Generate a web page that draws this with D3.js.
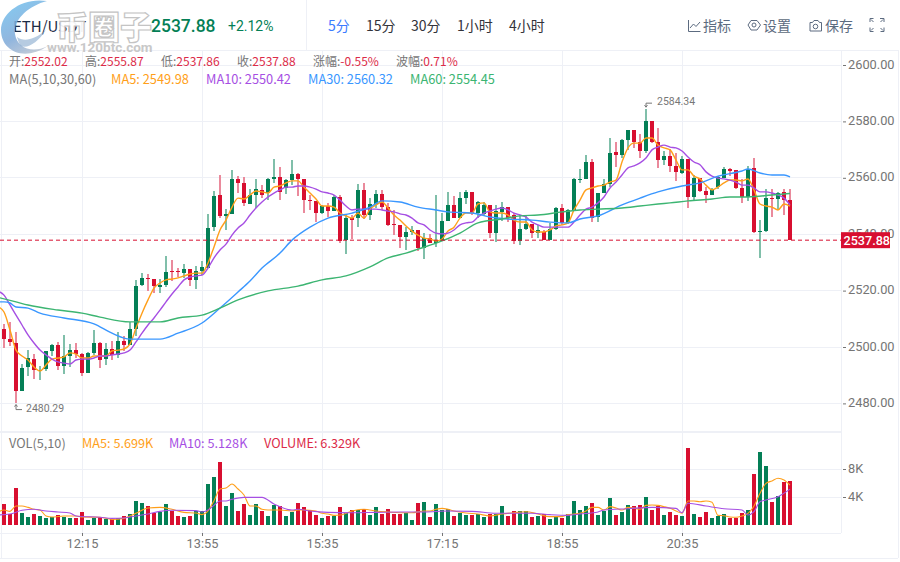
<!DOCTYPE html>
<html>
<head>
<meta charset="utf-8">
<title>ETH/USDT</title>
<script src="https://d3js.org/d3.v7.min.js"></script>
<style>
  html, body { margin: 0; padding: 0; background: #fff; }
  svg { display: block; font-family: "Noto Sans CJK SC", Roboto, sans-serif; }
  .axis path { display: none; }
  .axis text { font-family: Roboto, "Noto Sans", sans-serif; fill: #757575; }
  .axis line { stroke: #757575; }
</style>
</head>
<body>
<svg id="chart" width="900" height="562"></svg>
<script>
// candles, one per 5 minutes
const opens = [2506.4,2502.8,2501.4,2484.4,2492.9,2495.7,2491.5,2492.2,2498.6,2500.7,
  2493.3,2496.8,2498.9,2497.5,2490.8,2497.9,2501.4,2495.7,2499.3,2497.2,
  2502.1,2500.7,2506.4,2522.0,2524.5,2524.1,2521.3,2522.0,2526.9,2526.9,
  2526.2,2527.7,2523.8,2526.9,2528.0,2542.5,2553.9,2546.5,2547.2,2559.6,
  2558.2,2550.7,2553.9,2555.7,2554.6,2559.6,2560.3,2556.4,2559.2,2561.4,
  2559.6,2552.1,2551.8,2547.5,2550.0,2548.2,2553.2,2537.9,2545.7,2545.7,
  2555.7,2546.8,2550.7,2554.3,2549.6,2543.6,2543.3,2539.0,2540.8,2541.5,
  2535.1,2538.6,2536.9,2537.6,2544.7,2550.4,2545.7,2552.8,2555.0,2547.5,
  2547.2,2550.4,2540.4,2547.9,2549.6,2546.8,2537.6,2541.8,2543.6,2540.4,
  2540.8,2537.9,2541.8,2549.3,2544.0,2548.6,2559.2,2559.6,2565.6,2546.1,
  2554.6,2557.8,2569.2,2568.1,2573.4,2576.9,2572.7,2569.5,2580.1,2572.7,
  2566.3,2567.7,2564.2,2561.7,2566.7,2553.2,2559.9,2555.3,2553.9,2556.7,
  2559.9,2563.1,2562.8,2556.4,2553.2,2563.5,2540.8,2541.1,2552.8,2552.5,
  2555.0,2552.02];
const closes = [2502.8,2501.8,2484.4,2492.6,2496.1,2491.8,2491.8,2498.6,2500.7,2493.3,
  2496.8,2498.9,2497.5,2490.8,2497.9,2501.4,2495.4,2499.3,2497.2,2502.1,
  2500.7,2506.4,2521.6,2524.5,2524.1,2521.6,2522.0,2526.6,2526.6,2526.6,
  2527.7,2523.8,2526.9,2528.4,2542.2,2553.5,2546.5,2547.2,2559.6,2558.2,
  2551.1,2553.9,2556.0,2553.9,2559.6,2560.3,2555.0,2559.2,2561.4,2559.6,
  2552.1,2551.8,2547.5,2550.0,2548.2,2553.2,2537.6,2545.7,2545.0,2555.7,
  2546.8,2550.7,2554.3,2549.6,2543.3,2543.3,2539.0,2540.8,2541.5,2535.1,
  2538.6,2536.9,2537.6,2544.7,2550.4,2545.7,2552.8,2555.0,2547.5,2551.4,
  2550.4,2540.4,2548.2,2549.6,2545.7,2537.6,2541.8,2543.6,2540.4,2541.5,
  2537.9,2541.8,2549.3,2544.0,2548.6,2559.6,2559.6,2565.6,2545.7,2554.6,
  2557.8,2568.8,2568.1,2573.4,2576.9,2572.7,2569.5,2580.1,2572.7,2566.3,
  2567.7,2564.2,2562.1,2566.7,2553.2,2559.9,2555.3,2553.9,2555.7,2560.3,
  2563.1,2562.4,2556.4,2553.2,2563.1,2540.8,2541.1,2552.8,2552.5,2554.6,
  2552.1,2537.88];
const highs = [2508.2,2508.9,2505.3,2494.0,2498.9,2497.5,2493.3,2498.6,2501.0,2501.8,
  2504.3,2501.0,2501.4,2497.9,2498.2,2506.0,2501.8,2501.4,2502.1,2505.3,
  2503.9,2508.9,2523.8,2526.2,2525.9,2524.1,2524.1,2532.3,2530.9,2528.0,
  2529.4,2527.7,2528.7,2530.5,2547.2,2555.3,2561.0,2548.9,2562.8,2560.6,
  2560.3,2556.0,2559.6,2557.4,2559.9,2566.7,2563.8,2559.6,2566.3,2561.7,
  2559.6,2553.9,2551.8,2550.4,2551.1,2553.9,2553.9,2546.8,2546.8,2557.8,
  2558.2,2552.8,2555.7,2555.7,2551.1,2548.6,2543.3,2542.5,2542.9,2541.5,
  2540.4,2540.1,2553.9,2547.5,2555.0,2553.5,2555.0,2555.7,2555.0,2551.8,
  2551.4,2550.4,2550.4,2551.4,2549.6,2547.5,2546.8,2546.8,2543.6,2543.3,
  2541.5,2544.0,2549.6,2550.7,2548.9,2559.9,2563.1,2568.1,2566.7,2554.6,
  2559.6,2574.1,2572.7,2573.8,2576.9,2576.9,2575.5,2584.34,2580.1,2577.6,
  2569.5,2570.2,2568.8,2567.7,2566.7,2561.0,2559.9,2556.7,2556.4,2560.6,
  2563.8,2563.5,2562.8,2559.6,2564.2,2567.0,2545.0,2556.0,2556.0,2555.0,
  2556.0,2555.87];
const lows = [2499.6,2500.3,2480.29,2484.4,2489.7,2488.7,2488.3,2491.5,2496.8,2491.8,
  2490.4,2492.9,2496.1,2489.7,2490.8,2497.2,2492.6,2493.6,2495.4,2496.1,
  2498.6,2500.7,2503.9,2521.6,2519.9,2519.2,2519.2,2521.3,2523.4,2524.8,
  2524.5,2521.6,2520.6,2525.5,2528.0,2541.1,2545.7,2541.5,2547.2,2554.6,
  2550.0,2550.7,2549.3,2552.8,2552.1,2558.2,2552.1,2554.3,2557.4,2553.5,
  2547.5,2548.6,2544.3,2547.2,2546.1,2548.2,2536.9,2533.0,2538.3,2542.5,
  2545.4,2545.0,2549.3,2548.6,2542.9,2539.7,2535.1,2534.4,2539.7,2534.0,
  2531.2,2536.9,2535.5,2537.6,2544.7,2545.7,2545.7,2550.7,2546.8,2545.7,
  2546.5,2538.6,2537.2,2544.7,2544.3,2536.5,2536.2,2541.5,2538.6,2538.6,
  2537.9,2537.9,2541.5,2543.3,2543.6,2548.6,2558.2,2559.6,2544.3,2544.3,
  2554.6,2556.7,2563.8,2567.0,2569.9,2570.6,2567.0,2568.8,2572.3,2563.5,
  2564.6,2562.1,2558.9,2561.4,2549.3,2552.1,2555.0,2551.1,2553.9,2556.0,
  2559.9,2560.6,2556.0,2551.1,2551.8,2540.4,2531.6,2540.8,2546.1,2548.6,
  2546.8,2537.86];
// volume in thousands
const volumes = [3.0,1.57,5.3,1.71,1.14,1.57,1.29,1.0,1.14,1.43,
  1.14,1.0,1.0,1.86,0.71,1.0,1.14,0.86,0.86,1.0,
  1.29,1.57,3.43,3.14,2.71,1.71,1.86,3.0,2.0,1.29,
  1.14,1.29,2.0,2.0,5.86,6.86,9.0,2.71,4.57,2.0,
  3.0,1.43,3.0,2.0,1.29,2.86,2.71,1.29,1.86,3.14,
  2.57,2.14,1.43,1.0,1.29,1.29,2.57,1.71,2.14,2.14,
  2.29,1.43,2.57,1.57,2.29,1.57,1.57,1.71,0.71,3.14,
  3.29,1.14,3.0,2.14,2.29,1.29,1.71,1.43,1.43,1.57,
  1.14,1.57,1.57,2.71,1.29,2.0,2.0,2.0,1.14,1.29,
  1.57,0.86,1.29,1.0,1.57,3.43,2.14,2.71,3.14,1.43,
  2.0,3.86,1.43,1.86,2.86,2.71,2.86,4.0,2.14,2.71,
  1.43,1.86,1.43,1.29,11.0,1.57,1.14,1.86,1.0,1.29,
  1.57,1.0,1.0,1.71,2.14,7.29,10.43,8.43,3.29,4.14,
  6.14,6.33];

// index -1 is the candle just cut off at the left edge
const ma5Idx = d3.range(-1, 132);
const ma5 = [2514.3,2512.4,2506.0,2498.9,2496.8,2495.4,2492.9,2491.5,2493.6,2495.7,2496.1,
  2496.5,2497.9,2497.5,2496.1,2496.1,2496.8,2496.8,2496.8,2498.6,2498.9,
  2499.3,2501.0,2506.7,2512.0,2516.7,2520.9,2522.7,2523.8,2524.1,2524.5,
  2525.2,2525.9,2526.2,2526.2,2529.8,2535.5,2541.5,2545.0,2549.6,2552.8,
  2552.5,2553.9,2555.3,2555.0,2554.6,2556.7,2557.1,2558.2,2558.9,2558.9,
  2556.7,2554.6,2552.5,2550.0,2550.0,2549.6,2547.5,2546.5,2545.7,2547.5,
  2545.7,2548.9,2550.4,2551.4,2549.3,2546.8,2545.0,2542.9,2541.1,2539.7,
  2538.6,2538.3,2537.6,2538.3,2541.1,2542.5,2545.7,2547.5,2547.5,2550.7,
  2551.1,2547.9,2547.5,2547.5,2546.8,2545.0,2544.3,2544.3,2541.5,2540.8,
  2540.8,2541.5,2542.9,2543.3,2544.0,2548.6,2552.1,2555.7,2556.4,2557.1,
  2557.4,2558.5,2559.2,2565.6,2570.6,2572.3,2572.3,2574.1,2574.1,2571.6,
  2570.6,2569.9,2566.3,2562.8,2562.8,2560.6,2559.6,2557.4,2555.7,2556.7,
  2558.2,2559.2,2559.2,2558.9,2559.6,2555.7,2550.7,2550.0,2549.6,2548.6,
  2550.7,2549.98];
const ma10 = [2519.8,2518.4,2514.9,2511.3,2507.8,2504.3,2501.4,2498.9,2497.2,2495.7,2494.7,
  2494.3,2494.0,2495.4,2495.7,2495.7,2496.1,2496.8,2496.8,2497.2,2497.5,
  2497.9,2498.9,2501.8,2504.9,2507.8,2510.3,2513.1,2516.0,2518.8,2521.3,
  2523.8,2524.8,2525.2,2525.5,2528.0,2531.6,2534.4,2536.5,2539.7,2542.2,
  2544.0,2546.8,2549.3,2551.4,2553.2,2554.6,2555.7,2556.7,2556.7,2557.1,
  2557.1,2556.7,2556.0,2555.0,2554.6,2553.9,2552.1,2550.0,2548.6,2548.9,
  2548.9,2548.9,2548.9,2548.6,2548.2,2547.9,2547.2,2546.8,2545.7,2544.0,
  2543.3,2541.5,2540.4,2540.1,2540.4,2541.5,2543.3,2544.0,2544.3,2546.1,
  2547.5,2548.2,2548.9,2549.3,2548.6,2547.5,2546.8,2546.1,2544.3,2543.3,
  2542.5,2542.5,2542.5,2542.5,2542.5,2544.3,2546.8,2548.9,2549.6,2551.1,
  2553.2,2556.4,2558.5,2561.0,2563.5,2564.2,2565.3,2567.0,2569.9,2570.9,
  2571.6,2570.9,2570.6,2569.5,2567.4,2565.6,2564.6,2562.1,2560.6,2559.9,
  2559.6,2559.2,2558.5,2557.4,2557.4,2556.4,2555.0,2555.0,2554.6,2553.9,
  2552.8,2550.42];
const ma30Idx = [-1,0,1,2,4,6,10,15,18,21,26,29,33,36,39,41,43,46,48,51,54,58,61,63,66,69,72,74,78,81,84,88,91,94,96,99,103,106,109,113,116,119,123,124,126,128,130,131];
const ma30 = [2516.0,2516.0,2515.6,2514.2,2513.8,2512.0,2510.3,2508.2,2504.9,2502.8,2502.8,2504.9,2508.5,2513.8,2519.5,2523.4,2528.0,2533.3,2537.9,2542.5,2545.7,2547.5,2549.6,2551.8,2551.4,2549.6,2548.6,2547.9,2547.5,2546.1,2545.4,2545.0,2544.3,2544.0,2545.4,2546.5,2550.4,2552.8,2555.0,2557.1,2558.2,2560.6,2562.4,2563.1,2561.7,2561.0,2561.0,2560.32];
const ma60Idx = [-1,2,4,9,13,16,21,23,26,29,33,36,39,44,49,53,57,61,64,67,69,73,76,79,83,86,89,93,96,99,103,106,109,111,114,118,121,124,128,131];
const ma60 = [2517.6,2516.0,2514.9,2513.1,2512.0,2510.6,2508.9,2508.9,2508.9,2510.3,2511.3,2513.8,2516.7,2519.9,2521.6,2523.8,2525.2,2528.4,2531.6,2533.3,2534.7,2537.6,2540.4,2544.0,2545.4,2546.5,2546.8,2547.9,2548.6,2548.9,2549.3,2550.0,2550.7,2551.1,2551.8,2552.5,2553.2,2553.2,2553.9,2554.45];

const volMa5Idx = [-1,0,1,2,3,4,5,6,7,8,10,12,13,16,18,20,21,22,24,26,28,30,32,33,34,35,36,37,38,39,40,41,42,43,44,46,48,49,50,52,53,54,55,56,57,58,60,62,64,66,68,70,71,72,73,74,75,77,79,81,83,85,87,89,91,93,94,95,96,97,98,99,100,101,102,103,104,105,106,107,108,109,110,111,112,113,114,115,116,117,118,119,120,121,122,123,124,125,126,127,128,129,130,131];
const volMa5 = [1.86,2.14,1.95,2.71,2.71,2.52,2.24,2.14,1.29,1.14,1.29,1.29,1.14,1.1,0.81,0.95,1.29,1.67,2.43,2.52,2.24,1.81,1.71,1.48,2.0,3.48,5.14,5.29,5.86,5.14,4.29,2.71,2.71,2.24,2.14,2.14,2.0,2.14,2.14,2.0,1.67,1.57,1.38,1.43,1.67,2.0,2.24,2.0,1.86,1.76,1.76,2.0,2.0,2.24,2.38,2.24,2.0,1.71,1.57,1.29,1.57,1.76,1.9,1.57,1.19,1.19,1.48,1.57,1.67,2.0,2.52,2.52,2.14,2.62,2.43,2.14,2.52,2.43,2.24,2.81,2.86,2.81,2.62,2.38,2.0,1.67,3.43,3.43,3.33,3.43,3.24,1.38,1.33,1.14,1.1,1.29,1.67,2.71,4.52,5.95,6.29,6.67,6.43,5.70];
const volMa10Idx = [-1,1,3,5,7,9,11,12,16,18,20,22,24,26,28,32,33,34,35,36,37,38,40,43,45,48,49,51,54,58,62,66,70,74,78,82,85,88,91,94,96,99,100,104,108,112,113,114,117,120,123,124,125,126,127,129,131];
const volMa10 = [1.43,1.57,2.1,2.24,2.0,1.86,1.71,1.29,1.1,0.95,1.0,1.29,1.57,1.95,2.1,2.05,1.86,2.14,2.81,3.43,3.43,3.67,3.95,3.95,3.0,2.14,2.24,2.0,1.81,1.76,1.81,1.86,1.86,2.0,1.95,1.67,1.67,1.67,1.48,1.38,1.57,1.86,2.14,2.33,2.52,2.38,1.76,3.1,2.71,2.33,2.14,1.43,1.9,3.33,3.57,4.05,5.13];

const priceTicks = [2480, 2500, 2520, 2540, 2560, 2580, 2600];
const volTicks = [4, 8];
const timeTickIdx = [13, 33, 53, 73, 93, 113];
const timeLabels = ["12:15", "13:55", "15:35", "17:15", "18:55", "20:35"];

const GREEN = "#047f56", RED = "#d80f30", GREEN_WICK = "#80bfaa", RED_WICK = "#ea8a9c";
const C_MA5 = "#ff9f1a", C_MA10 = "#a64fe3", C_MA30 = "#3a97ff", C_MA60 = "#3cb572";
const GRID = "#eef0f6";

const svg = d3.select("#chart");
const x = d3.scaleLinear().domain([0, 131]).range([4, 790]);
const y = d3.scaleLinear().domain([2480, 2600]).range([403.4, 65]);
const yVol = d3.scaleLinear().domain([0, 8]).range([525, 469]);

// grid and frame
const grid = svg.append("g").attr("shape-rendering", "crispEdges").attr("stroke", GRID);
timeTickIdx.forEach(i => grid.append("line").attr("x1", x(i)).attr("x2", x(i)).attr("y1", 50).attr("y2", 533));
priceTicks.forEach(p => grid.append("line").attr("x1", 0).attr("x2", 841).attr("y1", y(p)).attr("y2", y(p)));
volTicks.forEach(v => grid.append("line").attr("x1", 0).attr("x2", 841).attr("y1", yVol(v)).attr("y2", yVol(v)));
grid.append("line").attr("x1", 0).attr("x2", 898).attr("y1", 50).attr("y2", 50);
grid.append("line").attr("x1", 0).attr("x2", 841).attr("y1", 432).attr("y2", 432).attr("stroke-width", 2);
grid.append("line").attr("x1", 0).attr("x2", 841).attr("y1", 533).attr("y2", 533);
grid.append("line").attr("x1", 0).attr("x2", 898).attr("y1", 558).attr("y2", 558);
grid.append("line").attr("x1", 841).attr("x2", 841).attr("y1", 50).attr("y2", 533);
grid.append("line").attr("x1", 306).attr("x2", 306).attr("y1", 0).attr("y2", 50);
grid.append("line").attr("x1", 898).attr("x2", 898).attr("y1", 50).attr("y2", 558);
grid.append("line").attr("x1", 1).attr("x2", 1).attr("y1", 50).attr("y2", 558);

// candles
const idx = d3.range(opens.length);
const isUp = i => closes[i] >= opens[i];
const candles = svg.append("g").attr("shape-rendering", "crispEdges");
candles.selectAll("rect.wick").data(idx).enter().append("rect")
  .attr("class", "wick")
  .attr("x", i => x(i) - 1).attr("width", 2)
  .attr("y", i => y(highs[i]))
  .attr("height", i => y(lows[i]) - y(highs[i]))
  .attr("fill", i => isUp(i) ? GREEN_WICK : RED_WICK);
candles.selectAll("rect.body").data(idx).enter().append("rect")
  .attr("class", "body")
  .attr("x", i => x(i) - 2).attr("width", 4)
  .attr("y", i => y(Math.max(opens[i], closes[i])))
  .attr("height", i => Math.max(1, Math.abs(y(opens[i]) - y(closes[i]))))
  .attr("fill", i => isUp(i) ? GREEN : RED);

// moving average lines
function drawLine(ids, vals, yScale, color, width) {
  const line = d3.line().x((d, k) => x(ids[k])).y(d => yScale(d)).curve(d3.curveMonotoneX);
  svg.append("path").attr("d", line(vals)).attr("fill", "none")
    .attr("stroke", color).attr("stroke-width", width);
}
drawLine(ma5Idx, ma5, y, C_MA5, 1.4);
drawLine(ma5Idx, ma10, y, C_MA10, 1.4);
drawLine(ma30Idx, ma30, y, C_MA30, 1.4);
drawLine(ma60Idx, ma60, y, C_MA60, 1.4);

// volume
svg.append("g").attr("shape-rendering", "crispEdges")
  .selectAll("rect").data(idx).enter().append("rect")
  .attr("x", i => x(i) - 2).attr("width", 4)
  .attr("y", i => yVol(volumes[i]))
  .attr("height", i => yVol(0) - yVol(volumes[i]))
  .attr("fill", i => isUp(i) ? GREEN : RED);
drawLine(volMa5Idx, volMa5, yVol, C_MA5, 1.1);
drawLine(volMa10Idx, volMa10, yVol, C_MA10, 1.1);

// axes
svg.append("g").attr("class", "axis").attr("transform", "translate(843,0)")
  .call(d3.axisRight(y).tickValues(priceTicks).tickSize(3).tickPadding(2).tickFormat(d => d.toFixed(2)))
  .selectAll("text").style("font-size", "12.8px").attr("dy", "0.24em");
svg.append("g").attr("class", "axis").attr("transform", "translate(843,0)")
  .call(d3.axisRight(yVol).tickValues(volTicks).tickSize(3).tickPadding(2).tickFormat(d => d + "K"))
  .selectAll("text").style("font-size", "12.8px").attr("dy", "0.24em");
svg.append("g").attr("class", "axis").attr("transform", "translate(0,533)")
  .call(d3.axisBottom(x).tickValues(timeTickIdx).tickSize(3).tickPadding(3).tickFormat((d, i) => timeLabels[i]))
  .selectAll("text").style("font-size", "12.8px");

// last price
const last = closes[closes.length - 1];
svg.append("line").attr("x1", 0).attr("x2", 841).attr("y1", y(last)).attr("y2", y(last))
  .attr("stroke", RED).attr("stroke-width", 1).attr("stroke-dasharray", "4,3");
svg.append("rect").attr("x", 841).attr("y", y(last) - 8).attr("width", 49).attr("height", 16).attr("fill", RED);

function label(tx, ty, str, color, size, extra) {
  const t = svg.append("text").attr("x", tx).attr("y", ty).text(str)
    .attr("fill", color).style("font-size", size + "px");
  if (extra) extra(t);
  return t;
}
const roboto = t => t.style("font-family", "Roboto, sans-serif");
label(843.5, y(last) + 4.5, last.toFixed(2), "#fff", 12.6, t => roboto(t).style("font-weight", 500));

// high / low markers
const GREY = "#777";
const hiIdx = highs.indexOf(d3.max(highs)), loIdx = lows.indexOf(d3.min(lows));
svg.append("path").attr("fill", "none").attr("stroke", GREY)
  .attr("d", `M${x(hiIdx)} ${y(d3.max(highs)) - 2}v-4h6M${x(hiIdx) - 1.5} ${y(d3.max(highs)) - 4}l1.5 2l1.5 -2`);
label(x(hiIdx) + 11, y(d3.max(highs)) - 4, d3.max(highs).toFixed(2), GREY, 10.5, roboto);
svg.append("path").attr("fill", "none").attr("stroke", GREY)
  .attr("d", `M${x(loIdx)} ${y(d3.min(lows)) + 2}v5h6M${x(loIdx) - 1.5} ${y(d3.min(lows)) + 4}l1.5 -2l1.5 2`);
label(x(loIdx) + 10, y(d3.min(lows)) + 9, d3.min(lows).toFixed(2), GREY, 10.5, roboto);

// info rows
const TXT_RED = "#dc2b48", GREY_TXT = "#777";
[[9, "开:", "2552.02"], [85, "高:", "2555.87"], [161, "低:", "2537.86"], [237, "收:", "2537.88"], [313, "涨幅:", "-0.55%"], [396, "波幅:", "0.71%"]]
  .forEach(r => {
    const t = label(r[0], 65.5, r[1], GREY_TXT, 12);
    t.append("tspan").attr("fill", TXT_RED).text(r[2]);
  });
label(9, 84, "MA(5,10,30,60)", GREY_TXT, 12.8);
label(111, 84, "MA5: 2549.98", C_MA5, 12.8);
label(206, 84, "MA10: 2550.42", C_MA10, 12.8);
label(308, 84, "MA30: 2560.32", C_MA30, 12.8);
label(410, 84, "MA60: 2554.45", C_MA60, 12.8);

label(9, 447.5, "VOL(5,10)", GREY_TXT, 12.7);
label(82, 447.5, "MA5: 5.699K", C_MA5, 12.7);
label(169, 447.5, "MA10: 5.128K", C_MA10, 12.7);
label(264, 447.5, "VOLUME: 6.329K", TXT_RED, 12.7);

// header
label(13, 32, "ETH/USDT", "#1c2b45", 15);
label(151, 32, "2537.88", GREEN, 17.5, t => roboto(t).style("font-weight", 500));
label(228, 31, "+2.12%", GREEN, 14, roboto);
label(328, 31, "5分", "#3b7cff", 14);
[[366, "15分"], [411, "30分"], [457, "1小时"], [509, "4小时"]].forEach(r => label(r[0], 31, r[1], "#33333a", 14));
const TOOL = "#5c6b80";
label(703, 31, "指标", TOOL, 14);
label(763, 31, "设置", TOOL, 14);
label(825, 31, "保存", TOOL, 14);
const icons = svg.append("g").attr("fill", "none").attr("stroke", TOOL).attr("stroke-width", 1);
icons.append("path").attr("d", "M688.5 20v11.5h12M690 28l3.5 -4l2.5 2.5l4 -4.5");
icons.append("path").attr("d", "M751 20.5h6l3.5 4.5l-3.5 5h-6l-3 -5z");
icons.append("circle").attr("cx", 754).attr("cy", 25).attr("r", 2);
icons.append("path").attr("d", "M810 22.5h2.5l1.5 -2h4l1.5 2h2v8.5h-11.5z");
icons.append("circle").attr("cx", 815.5).attr("cy", 26.5).attr("r", 2.3);
icons.append("path").attr("d", "M870 22v-3.5h3.5M880 18.5h4v3.5M870 27.5v4h3.5M880.5 31.5h3.5v-4M871 19.5l2.5 2.5M883 19.5l-2.5 2.5M871 30.5l2.5 -2.5M883 30.5l-2.5 -2.5");

// watermark
const defs = svg.append("defs");
const grad = defs.append("linearGradient").attr("id", "logo").attr("x1", 0.2).attr("y1", 0).attr("x2", 0.7).attr("y2", 1);
grad.append("stop").attr("offset", "0").attr("stop-color", "#6fc0ee");
grad.append("stop").attr("offset", "0.6").attr("stop-color", "#7ea9d8");
grad.append("stop").attr("offset", "1").attr("stop-color", "#b9c2d0");
svg.append("path").attr("fill", "url(#logo)").attr("opacity", 0.85)
  .attr("d", "M47 1C22 -3 1 13 1 30C1 51 24 62 48 46C32 54 17 48 15 34C13 20 28 6 47 1Z");
svg.append("path").attr("fill", "#7aa0c8").attr("opacity", 0.55)
  .attr("d", "M17 37C24 42 34 40 46 30C38 42 28 49 21 46C19 44 18 40 17 37Z");
label(56, 39, "币圈子", "#ffffff", 32, t => t.style("font-weight", 900)
  .attr("stroke", "#c4c4c4").attr("stroke-width", 1.2).attr("fill-opacity", 0.94));
label(47, 52, "www.120btc.com", "#c8c8c8", 13.5, t => roboto(t).style("font-weight", 700));
</script>
</body>
</html>
